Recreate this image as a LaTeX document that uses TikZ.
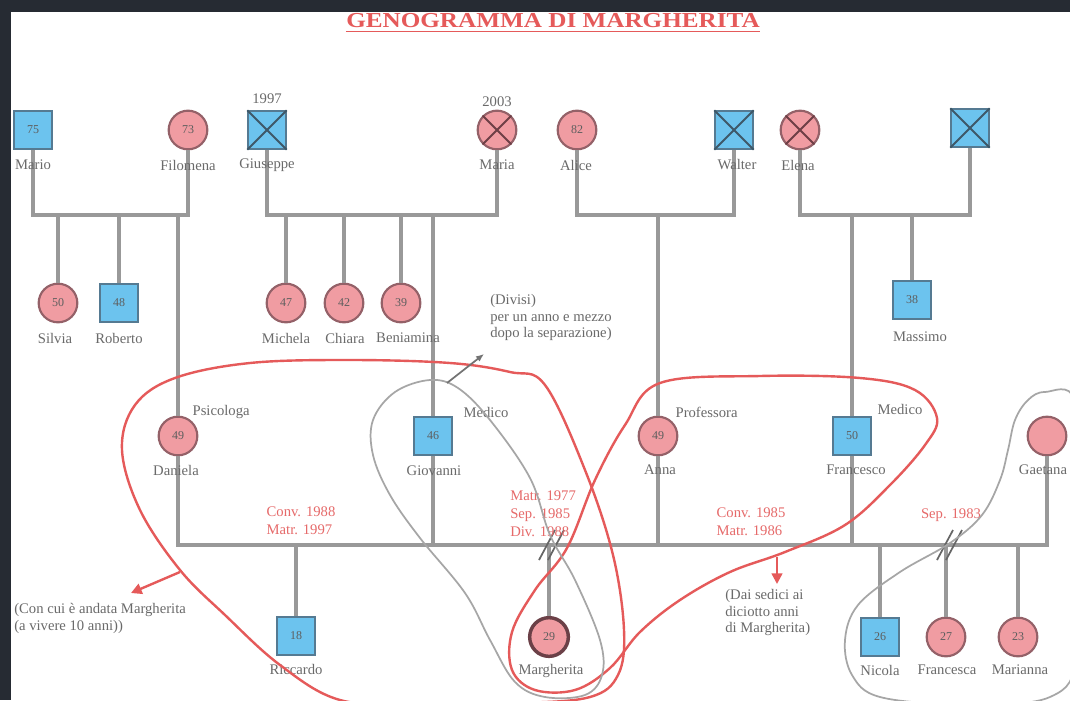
\documentclass[tikz,border=0pt]{standalone}
\usepackage{fontspec}
\setmainfont{Liberation Serif}
\newfontfamily\titlefont[FakeStretch=1.18]{Liberation Serif}
\usetikzlibrary{arrows.meta}
\definecolor{frame}{HTML}{262B33}
\definecolor{sqfill}{HTML}{6CC3EE}
\definecolor{sqdraw}{HTML}{557A92}
\definecolor{cifill}{HTML}{F09CA2}
\definecolor{cidraw}{HTML}{946168}
\definecolor{fam}{HTML}{999999}
\definecolor{txt}{HTML}{6A6A6A}
\definecolor{numtxt}{HTML}{5E5E5E}
\definecolor{loopred}{HTML}{E55A5A}
\definecolor{reltxt}{HTML}{E66A6A}
\definecolor{loopgray}{HTML}{A6A6A6}
\definecolor{xsq}{HTML}{3E5869}
\definecolor{xci}{HTML}{6E3F46}
\definecolor{idx}{HTML}{6B4047}
\begin{document}
\begin{tikzpicture}[x=0.75pt,y=-0.75pt,
  male/.style={rectangle,draw=sqdraw,fill=sqfill,line width=1.6pt,minimum size=28pt,inner sep=0pt,font=\fontsize{9}{10}\selectfont,text=numtxt},
  female/.style={circle,draw=cidraw,fill=cifill,line width=1.6pt,minimum size=29pt,inner sep=0pt,font=\fontsize{9}{10}\selectfont,text=numtxt},
  nm/.style={font=\fontsize{11}{12}\selectfont,text=txt,inner sep=1pt},
  jobl/.style={nm,anchor=west},
  rel/.style={font=\fontsize{11}{13.5}\selectfont,text=reltxt,align=left,inner sep=0pt},
  notetext/.style={font=\fontsize{11}{12.5}\selectfont,text=txt,align=left,inner sep=0pt,anchor=north west},
  famline/.style={draw=fam,line width=2.4pt},
  xsqline/.style={draw=xsq,line width=1.4pt},
  xciline/.style={draw=xci,line width=1.4pt},
  slashline/.style={draw=black!60,line width=1.3pt},
  redloop/.style={draw=loopred,line width=1.8pt},
  grayloop/.style={draw=loopgray,line width=1.3pt},
]
% background
\fill[frame] (0,0) rectangle (1070,700);
\fill[white] (11,12) rectangle (1070,700);
\useasboundingbox (0,0) rectangle (1070,700);

% title
\node[font=\titlefont\bfseries\fontsize{16}{18}\selectfont,text=loopred,inner sep=0pt] (title) at (553,21) {GENOGRAMMA DI MARGHERITA};
\draw[loopred,line width=0.8pt] ([yshift=-2pt]title.south west) -- ([yshift=-2pt]title.south east);

% coordinates of the couple lines
\coordinate (y1) at (0,215);
\coordinate (y3) at (0,545);

% ---- generation I
\node[male] (mario) at (33,130) {75};
\node[female] (filomena) at (188,130) {73};
\node[male] (giuseppe) at (267,130) {};
\node[female] (maria) at (497,130) {};
\node[female] (alice) at (577,130) {82};
\node[male] (walter) at (734,130) {};
\node[female] (elena) at (800,130) {};
\node[male] (nonno) at (970,128) {};

\node[nm] (ygiuseppe) at (267,99) {1997};
\node[nm] (ymaria) at (497,102) {2003};

% ---- generation II
\node[female] (silvia) at (58,303) {50};
\node[male] (roberto) at (119,303) {48};
\node[female] (michela) at (286,303) {47};
\node[female] (chiara) at (344,303) {42};
\node[female] (beniamina) at (401,303) {39};
\node[male] (massimo) at (912,300) {38};

\node[female] (daniela) at (178,436) {49};
\node[male] (giovanni) at (433,436) {46};
\node[female] (anna) at (658,436) {49};
\node[male] (francesco) at (852,436) {50};
\node[female] (gaetana) at (1047,436) {};

% ---- generation III
\node[male] (riccardo) at (296,636) {18};
\node[female,draw=idx,line width=2.6pt] (margherita) at (549,637) {29};
\node[male] (nicola) at (880,637) {26};
\node[female] (francesca) at (946,637) {27};
\node[female] (marianna) at (1018,637) {23};

% ---- family lines
\draw[famline] (mario) -- (mario |- y1) -- (filomena |- y1) -- (filomena);
\draw[famline] (giuseppe) -- (giuseppe |- y1) -- (maria |- y1) -- (maria);
\draw[famline] (alice) -- (alice |- y1) -- (walter |- y1) -- (walter);
\draw[famline] (elena) -- (elena |- y1) -- (nonno |- y1) -- (nonno);
\draw[famline] (silvia) -- (silvia |- y1);
\draw[famline] (roberto) -- (roberto |- y1);
\draw[famline] (daniela) -- (daniela |- y1);
\draw[famline] (michela) -- (michela |- y1);
\draw[famline] (chiara) -- (chiara |- y1);
\draw[famline] (beniamina) -- (beniamina |- y1);
\draw[famline] (giovanni) -- (giovanni |- y1);
\draw[famline] (anna) -- (anna |- y1);
\draw[famline] (francesco) -- (francesco |- y1);
\draw[famline] (massimo) -- (massimo |- y1);

\draw[famline] (daniela) -- (daniela |- y3) -- (gaetana |- y3) -- (gaetana);
\draw[famline] (giovanni) -- (giovanni |- y3);
\draw[famline] (anna) -- (anna |- y3);
\draw[famline] (francesco) -- (francesco |- y3);
\draw[famline] (riccardo) -- (riccardo |- y3);
\draw[famline] (margherita) -- (margherita |- y3);
\draw[famline] (nicola) -- (nicola |- y3);
\draw[famline] (francesca) -- (francesca |- y3);
\draw[famline] (marianna) -- (marianna |- y3);

% crosses on deceased
\foreach \n in {giuseppe,walter,nonno}{
  \draw[xsqline] (\n.north west) -- (\n.south east);
  \draw[xsqline] (\n.north east) -- (\n.south west);
}
\foreach \n in {maria,elena}{
  \draw[xciline] (\n.45) -- (\n.225);
  \draw[xciline] (\n.135) -- (\n.315);
}

% divorce / separation marks
\draw[slashline] (539,560) -- (555,530);
\draw[slashline] (548,560) -- (564,530);
\draw[slashline] (937,560) -- (953,530);
\draw[slashline] (946,560) -- (962,530);

% ---- names
\node[nm] (lmario) at (33,165) {Mario};
\node[nm] (lfilomena) at (188,165) {Filomena};
\node[nm] (lgiuseppe) at (267,165) {Giuseppe};
\node[nm] (lmaria) at (497,165) {Maria};
\node[nm] (lalice) at (576,165) {Alice};
\node[nm] (lwalter) at (737,165) {Walter};
\node[nm] (lelena) at (798,165) {Elena};

\node[nm] (lsilvia) at (55,338) {Silvia};
\node[nm] (lroberto) at (119,338) {Roberto};
\node[nm] (lmichela) at (286,338) {Michela};
\node[nm] (lchiara) at (345,338) {Chiara};
\node[nm] (lbeniamina) at (408,338) {Beniamina};
\node[nm] (lmassimo) at (920,337) {Massimo};

\node[nm] (ldaniela) at (176,470) {Daniela};
\node[nm] (lgiovanni) at (434,471) {Giovanni};
\node[nm] (lanna) at (660,470) {Anna};
\node[nm] (lfrancesco) at (856,470) {Francesco};
\node[nm] (lgaetana) at (1043,470) {Gaetana};

\node[nm] (lriccardo) at (296,669) {Riccardo};
\node[nm] (lmargherita) at (551,671) {Margherita};
\node[nm] (lnicola) at (880,670) {Nicola};
\node[nm] (lfrancesca) at (947,670) {Francesca};
\node[nm] (lmarianna) at (1020,670) {Marianna};

% professions
\node[jobl] (jdaniela) at (191,412) {Psicologa};
\node[jobl] (jgiovanni) at (462,412) {Medico};
\node[jobl] (janna) at (674,412) {Professora};
\node[jobl] (jfrancesco) at (876,409) {Medico};

% relationship dates
\node[rel] (r1) at (301,521) {Conv. 1988\\Matr. 1997};
\node[rel,anchor=west] (r2) at (510,514) {Matr. 1977\\Sep. 1985\\Div. 1988};
\node[rel] (r3) at (751,522) {Conv. 1985\\Matr. 1986};
\node[rel] (r4) at (951,515) {Sep. 1983};

% notes
\node[notetext] (ndivisi) at (490,294) {(Divisi)\\per un anno e mezzo\\dopo la separazione)};
\node[notetext] (ncon) at (14,603) {(Con cui è andata Margherita\\(a vivere 10 anni))};
\node[notetext] (ndai) at (725,589) {(Dai sedici ai\\diciotto anni\\di Margherita)};

% ---- loops
\begin{scope}
\clip (11,12) rectangle (1070,700);
\draw[redloop] plot[smooth cycle,tension=0.6] coordinates {(545,385) (585,470) (613,555) (624,630) (618,675) (590,697) (520,703) (420,704) (340,700) (280,665) (225,615) (180,570) (140,510) (122,450) (135,405) (175,378) (250,363) (350,360) (450,363) (510,372)};
\draw[redloop] plot[smooth cycle,tension=0.6] coordinates {(660,383) (760,376) (860,378) (915,390) (937,418) (925,445) (890,485) (845,525) (785,552) (730,572) (680,600) (640,632) (610,668) (575,690) (535,690) (512,670) (512,632) (535,590) (567,548) (595,480) (625,425)};
\draw[grayloop] plot[smooth cycle,tension=0.6] coordinates {(430,380) (458,388) (490,420) (530,478) (550,535) (575,580) (600,640) (602,675) (585,695) (545,697) (515,682) (490,640) (465,593) (420,538) (390,495) (373,455) (373,420) (395,392)};
\draw[grayloop] plot[smooth cycle,tension=0.6] coordinates {(1045,392) (1075,400) (1082,500) (1078,650) (1050,697) (960,704) (880,697) (852,675) (845,640) (858,605) (900,572) (950,543) (982,515) (1000,480) (1008,450) (1015,420) (1028,400)};
\end{scope}

% pointers
\coordinate (tailg) at (447,383);
\coordinate (tipg) at (484,354);
\draw[grayloop,draw=black!55,-{Latex[length=6pt,width=5pt]}] (tailg) -- (tipg);
\coordinate (taila) at (180,572);
\coordinate (tipa) at (131,593);
\draw[redloop,-{Triangle[length=8pt,width=8pt]}] (taila) -- (tipa);
\coordinate (tailb) at (777,557);
\coordinate (tipb) at (777,584);
\draw[redloop,-{Triangle[length=8pt,width=8pt]}] (tailb) -- (tipb);
\end{tikzpicture}
\end{document}
